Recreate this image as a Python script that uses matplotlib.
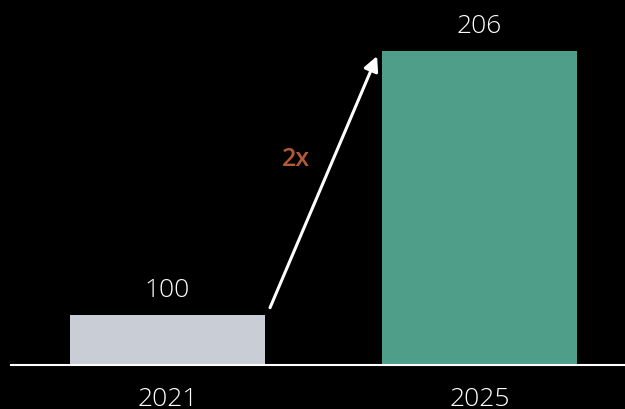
import matplotlib
matplotlib.use("Agg")
import matplotlib.pyplot as plt

years = ["2021", "2025"]
values = [100, 206]
bar_colors = ["#C9CDD6", "#4E9E8A"]
growth_label = "2x"

BG = "#000000"
FG = "#FFFFFF"
ACCENT = "#B35A35"
FONT = ["Open Sans", "DejaVu Sans"]

fig = plt.figure(figsize=(6.25, 4.10), dpi=100, facecolor=BG)
# axes bottom sits on the baseline, left edge where the baseline starts
ax = fig.add_axes([11 / 625, 44 / 410, 614 / 625, 366 / 410], facecolor=BG)

x = list(range(len(years)))
width = 0.625
ax.bar(x, values, width=width, color=bar_colors, zorder=2)

ax.set_xlim(-0.5016, 1.466)
ax.set_ylim(80, 226.9)

for xi, v in zip(x, values):
    ax.annotate(f"{v}", (xi, v), xytext=(0, 9.5), textcoords="offset points",
                ha="center", va="bottom", color=FG, fontsize=19,
                family=FONT, fontweight=300)

# growth arrow from first bar top to second bar top
start = (x[0] + width / 2 + 0.016, values[0] + 3)
end = (x[1] - width / 2 - 0.016, values[1] - 2)
ax.annotate("", xy=end, xytext=start,
            arrowprops=dict(arrowstyle="-|>", color=FG, lw=2.2,
                            mutation_scale=22, shrinkA=0, shrinkB=0))
mid = ((start[0] + end[0]) / 2, (start[1] + end[1]) / 2)
ax.annotate(growth_label, mid, xytext=(-20, 17), textcoords="offset points",
            ha="center", va="center", color=ACCENT, fontsize=18,
            family=FONT, fontweight="semibold")

for s in ["top", "left", "right"]:
    ax.spines[s].set_visible(False)
ax.spines["bottom"].set_color(FG)
ax.spines["bottom"].set_linewidth(1.5)
ax.set_yticks([])
ax.set_xticks(x)
ax.set_xticklabels(years, color=FG, fontsize=19, family=FONT,
                   fontweight=300)
ax.tick_params(axis="x", length=0, pad=15)

fig.savefig("out.png", dpi=100, facecolor=BG)
